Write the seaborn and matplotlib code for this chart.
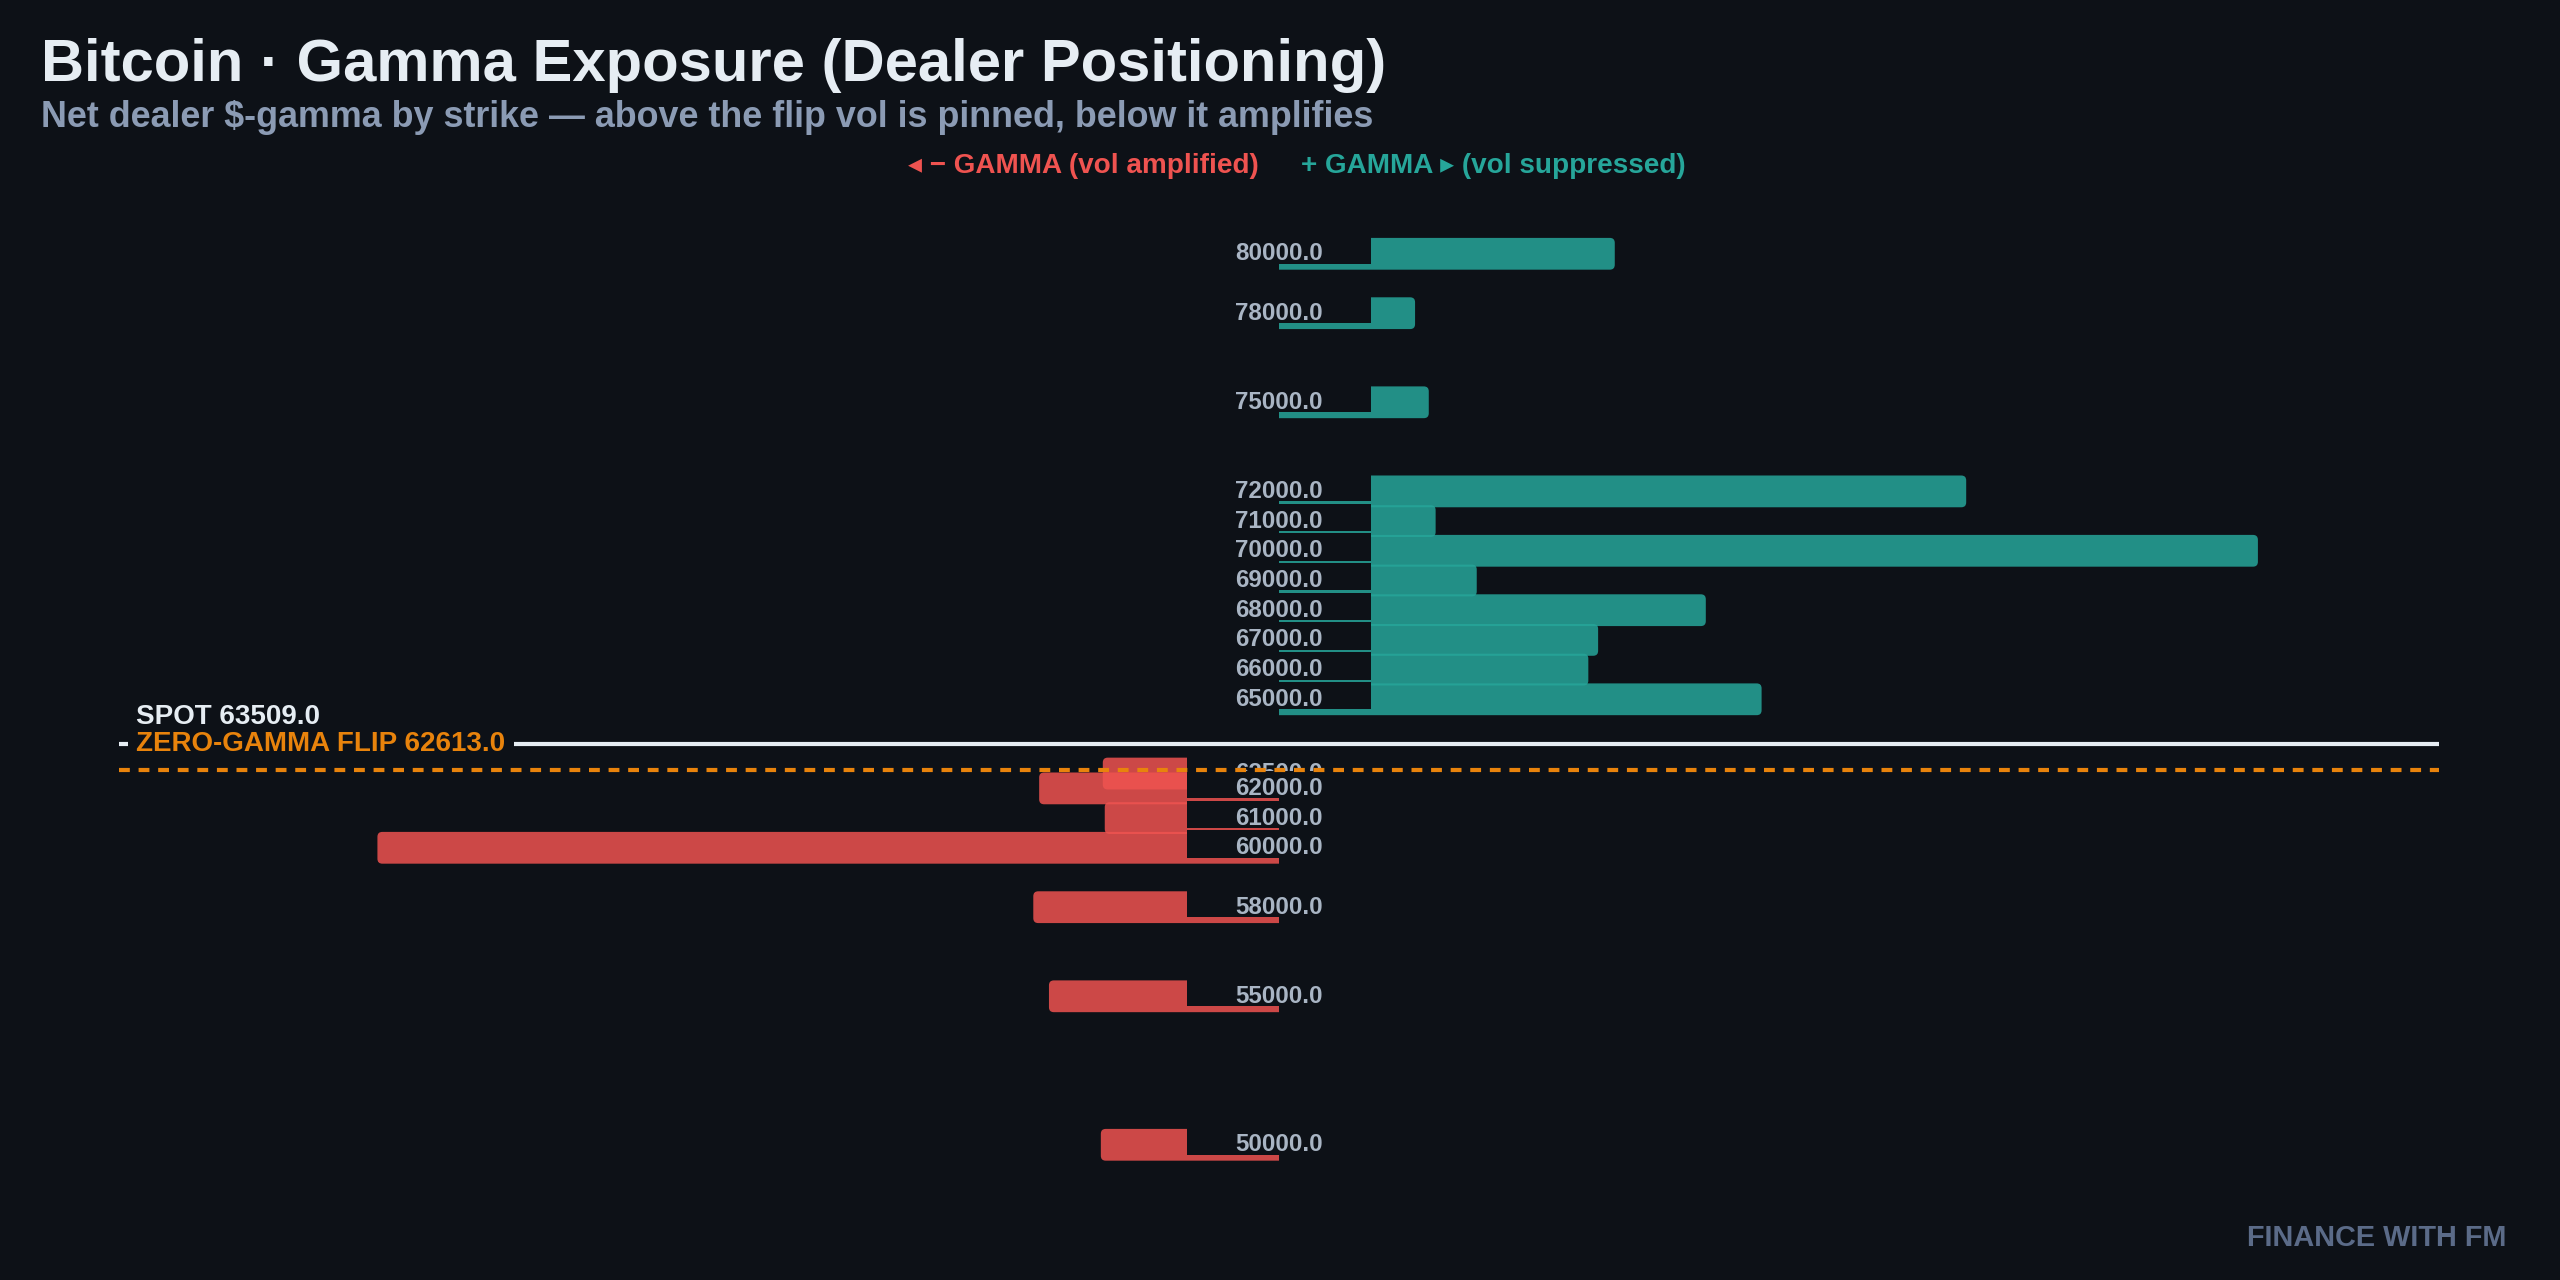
import numpy as np
import pandas as pd
import matplotlib
matplotlib.use("Agg")
import matplotlib.pyplot as plt
import matplotlib.transforms as mtransforms
from matplotlib.patches import FancyBboxPatch, Rectangle
import seaborn as sns

# ---------------- data ----------------
strikes = [80000, 78000, 75000, 72000, 71000, 70000, 69000, 68000, 67000, 66000,
           65000, 62500, 62000, 61000, 60000, 58000, 55000, 50000]
net_gamma = [34.3, 13.9, 15.3, 70.2, 16.0, 100.0, 20.2, 43.6, 32.6, 31.6,
             49.3, -18.0, -24.5, -17.8, -92.1, -25.1, -23.5, -18.2]
spot_price = 63509.0
flip_price = 62613.0

title_text = "Bitcoin · Gamma Exposure (Dealer Positioning)"
subtitle_text = "Net dealer $-gamma by strike — above the flip vol is pinned, below it amplifies"
neg_legend = "◂ − GAMMA (vol amplified)"
pos_legend = "+ GAMMA ▸ (vol suppressed)"
watermark = "FINANCE WITH FM"

# ---------------- style ----------------
BG = "#0d1117"
FG = "#e6edf3"
SUB = "#8b9bb4"
RED = "#ef5350"
TEAL = "#26a69a"
ORANGE = "#e8830c"
LABEL = "#a9b5c4"
WM = "#5b6b88"
FONT = ["Liberation Sans", "DejaVu Sans"]

sns.set_theme(style="dark", rc={"figure.facecolor": BG, "axes.facecolor": BG,
                                "savefig.facecolor": BG})
plt.rcParams["font.family"] = FONT
plt.rcParams["font.weight"] = "bold"

df = pd.DataFrame({"strike": strikes, "gex": net_gamma})
df["side"] = np.where(df["gex"] >= 0, "pos", "neg")

fig = plt.figure(figsize=(12.8, 6.4), dpi=200)
fig.patch.set_facecolor(BG)
ax = fig.add_axes([119 / 2560, 80 / 1280, 2320 / 2560, 1000 / 1280])

XLIM = 118.5
YLIM = (48141, 81811)
ax.set_xlim(-XLIM, XLIM)
ax.set_ylim(*YLIM)

sns.barplot(data=df, x="gex", y="strike", hue="side", orient="y", native_scale=True,
            palette={"pos": TEAL, "neg": RED}, dodge=False, width=2.0, alpha=0.85,
            saturation=1, errorbar=None, legend=False, linewidth=0, edgecolor="none", ax=ax)
ax.set_xlim(-XLIM, XLIM)
ax.set_ylim(*YLIM)

BAR_H = 1070
MASK_HALF = 9.4
MASK_LO, MASK_HI = 335, 590
R_X = 0.5                       # corner radius in x units (~5 px)
ASPECT = 330                    # y units per x unit on screen

order = {s: i for i, s in enumerate(sorted(strikes, reverse=True))}
clip_pos = Rectangle((0, YLIM[0]), 2 * XLIM, YLIM[1] - YLIM[0], transform=ax.transData)
clip_neg = Rectangle((-2 * XLIM, YLIM[0]), 2 * XLIM, YLIM[1] - YLIM[0], transform=ax.transData)

for p in list(ax.patches):
    yc = p.get_y() + p.get_height() / 2
    w = p.get_width()
    x0 = p.get_x()
    fc = p.get_facecolor()
    nearest = min(strikes, key=lambda s: abs(s - yc))
    p.remove()
    if w >= 0:
        left, width, clip = x0 - 2 * R_X, w + 2 * R_X, clip_pos
    else:
        left, width, clip = x0 + w, -w + 2 * R_X, clip_neg
    fb = FancyBboxPatch((left, yc - BAR_H / 2), width, BAR_H,
                        boxstyle=f"round,pad=0,rounding_size={R_X}",
                        mutation_aspect=ASPECT, facecolor=fc, edgecolor="none",
                        linewidth=0, zorder=2 + 3 * order[nearest])
    ax.add_patch(fb)
    fb.set_clip_path(clip)

for s in strikes:
    r = order[s]
    ax.barh(s + (MASK_HI - MASK_LO) / 2, 2 * MASK_HALF, left=-MASK_HALF,
            height=MASK_HI + MASK_LO, color=BG, linewidth=0, zorder=3 + 3 * r)
    ax.text(0, s, f"{s:.1f}", ha="center", va="center", color=LABEL,
            fontsize=8.7, fontweight="bold", zorder=4 + 3 * r)

ax.set_axis_off()

ax.axhline(spot_price, color=FG, lw=1.5, zorder=200)
ax.axhline(flip_price, color=ORANGE, lw=1.5, linestyle=(0, (2.6, 2.1)), zorder=200)

blend = mtransforms.blended_transform_factory(ax.transAxes, ax.transData)
ax.text(0.0075, spot_price, f"ZERO-GAMMA FLIP {flip_price:.1f}", transform=blend,
        va="center", ha="left", color=ORANGE, fontsize=10, fontweight="bold", zorder=201,
        bbox=dict(boxstyle="square,pad=0.3", fc=BG, ec="none"))
ax.annotate(f"SPOT {spot_price:.1f}", xy=(0.0075, spot_price), xycoords=blend,
            xytext=(0, 9.4), textcoords="offset points", va="center", ha="left",
            color=FG, fontsize=10, fontweight="bold", zorder=205)

# ---------------- titles ----------------
fig.text(41 / 2560, 1 - 81 / 1280, title_text, ha="left", va="baseline", color=FG,
         fontsize=21.53, fontweight="bold")
fig.text(41 / 2560, 1 - 127 / 1280, subtitle_text, ha="left", va="baseline", color=SUB,
         fontsize=12.93, fontweight="bold")
fig.text((1280 - 21) / 2560, 1 - 173 / 1280, neg_legend, ha="right", va="baseline",
         color=RED, fontsize=10.05, fontweight="bold")
fig.text((1280 + 21) / 2560, 1 - 173 / 1280, pos_legend, ha="left", va="baseline",
         color=TEAL, fontsize=10.05, fontweight="bold")
fig.text(2506 / 2560, 1 - 1246 / 1280, watermark, ha="right", va="baseline", color=WM,
         fontsize=10.4, fontweight="bold")

fig.savefig("out.png", dpi=200, facecolor=BG)
